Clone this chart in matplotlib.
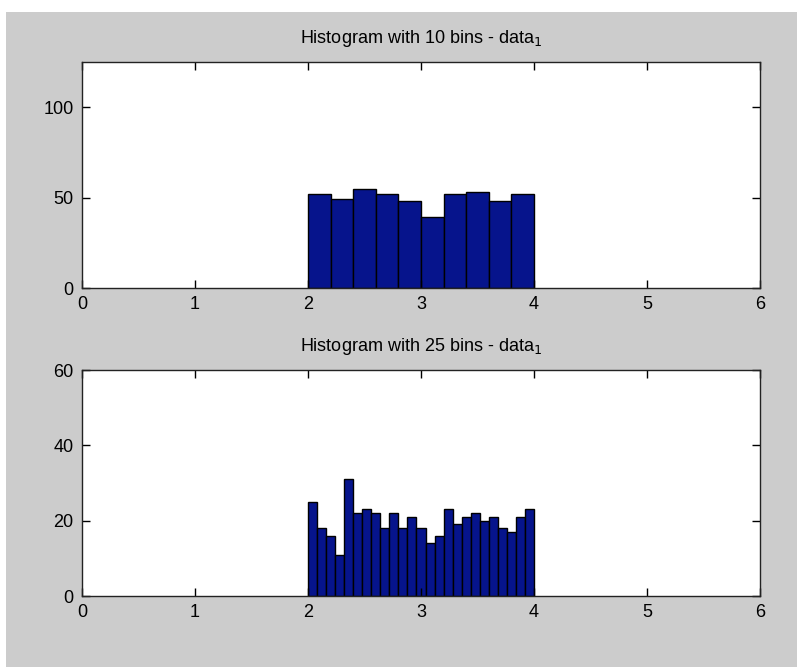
import numpy as np
import matplotlib
matplotlib.use('Agg')
import matplotlib.pyplot as plt
from matplotlib.patches import Rectangle

plt.rcParams['font.family'] = ['Liberation Sans Narrow', 'Liberation Sans', 'DejaVu Sans']

# Data
edges_10 = np.linspace(2, 4, 11)
counts_10 = [52, 49, 55, 52, 48, 39, 52, 53, 48, 52]

edges_25 = np.linspace(2, 4, 26)
counts_25 = [25, 18, 16, 11, 31, 22, 23, 22, 18, 22, 18, 21, 18,
             14, 16, 23, 19, 21, 22, 20, 21, 18, 17, 21, 23]

xticks = [0, 1, 2, 3, 4, 5, 6]
yticks_top = [0, 50, 100]
yticks_bottom = [0, 20, 40, 60]

bar_color = '#06148c'

fig = plt.figure(figsize=(7.97, 6.69), dpi=100, facecolor='white')
# gray window background like the MATLAB figure
fig.patches.append(Rectangle((0.0075, 0.003), 0.9925, 0.979, transform=fig.transFigure,
                             facecolor='#cccccc', edgecolor='none', zorder=-10))

ax1 = fig.add_axes([0.1029, 0.5695, 0.8507, 0.3378])
ax2 = fig.add_axes([0.1029, 0.1091, 0.8507, 0.3378])

panels = [
    (ax1, edges_10, counts_10, 'Histogram with 10 bins - data$_1$', 125, yticks_top),
    (ax2, edges_25, counts_25, 'Histogram with 25 bins - data$_1$', 60, yticks_bottom),
]

for ax, edges, counts, title, ymax, yticks in panels:
    ax.bar(edges[:-1], counts, width=np.diff(edges), align='edge',
           color=bar_color, edgecolor='black', linewidth=1.0)
    ax.set_xlim(0, 6)
    ax.set_ylim(0, ymax)
    ax.set_xticks(xticks)
    ax.set_yticks(yticks)
    ax.tick_params(direction='in', length=5.5, width=1.0, top=True, right=True,
                   labelsize=13)
    ax.tick_params(axis='x', pad=6)
    ax.tick_params(axis='y', pad=6)
    for s in ax.spines.values():
        s.set_linewidth(1.0)
        s.set_color('#222222')
    ax.set_title(title, fontsize=13, pad=14)

fig.savefig('out.png', dpi=100, facecolor='white')
